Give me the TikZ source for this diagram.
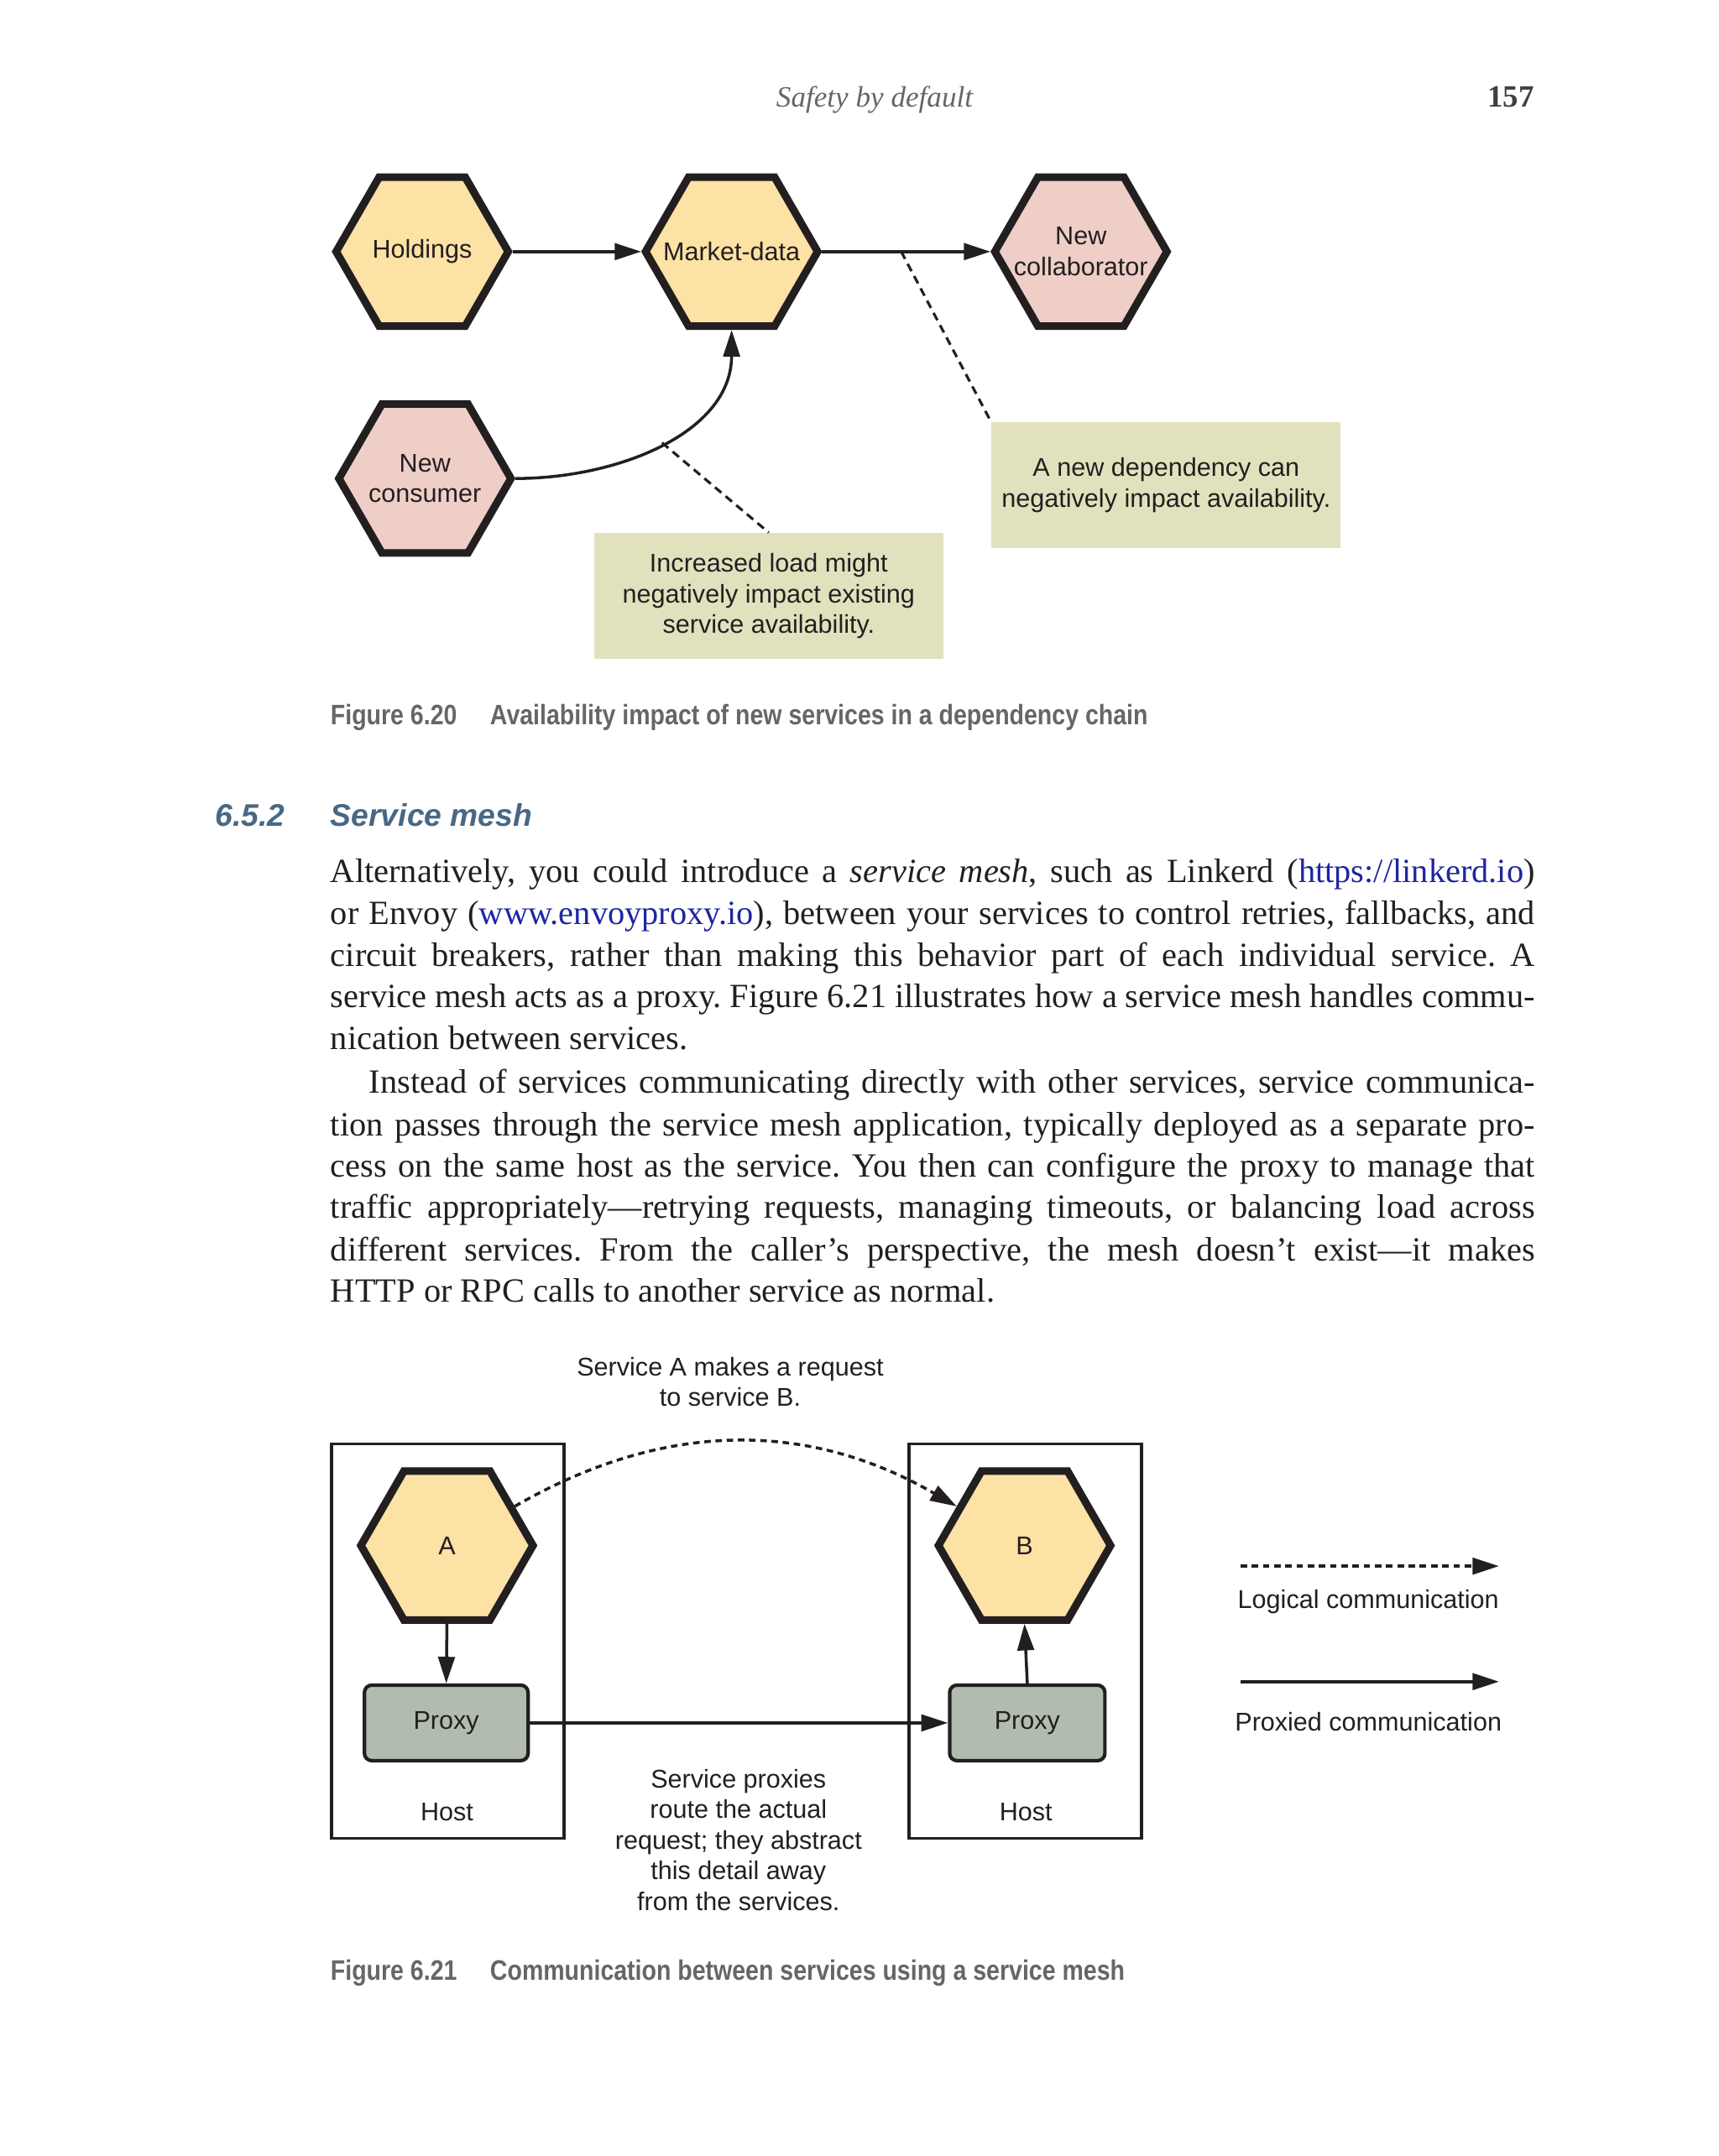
\documentclass[tikz,border=0pt]{standalone}
\usepackage{fontspec}
\setmainfont{Liberation Serif}
\newfontfamily\figfont{Liberation Sans}
\newfontfamily\capfont[FakeStretch=0.85]{Liberation Sans}
\usepackage{tikz}
\usetikzlibrary{arrows.meta, shapes.geometric, calc, positioning}

\definecolor{hexline}{RGB}{35,31,32}
\definecolor{hexyellow}{RGB}{253,226,165}
\definecolor{hexpink}{RGB}{239,206,199}
\definecolor{notefill}{RGB}{226,225,189}
\definecolor{proxyfill}{RGB}{178,188,174}
\definecolor{capgray}{RGB}{102,102,102}
\definecolor{headblue}{RGB}{72,104,131}
\definecolor{linkblue}{RGB}{30,38,160}
\definecolor{textblack}{RGB}{35,31,32}

\newcommand{\link}[1]{\textcolor{linkblue}{#1}}
\frenchspacing

\begin{document}
\begin{tikzpicture}[
          x=0.016384cm, y=-0.016384cm,
          >={Triangle[length=9pt,width=5.6pt]},
          hexa/.style={regular polygon, regular polygon sides=6, draw=hexline,
            line width=2.6pt, minimum size=2.05cm, inner sep=0pt},
          lab/.style={font=\figfont\fontsize{8.7}{10.4}\selectfont, align=center, text=textblack, inner sep=0pt},
          note/.style={lab, fill=notefill, minimum width=4.16cm, minimum height=1.5cm},
          proxy/.style={lab, draw=hexline, fill=proxyfill, line width=1.2pt, rounded corners=2.5pt,
            minimum height=0.9cm},
          host/.style={draw=hexline, line width=1pt, minimum width=2.77cm, minimum height=4.70cm, inner sep=0pt},
          conn/.style={->, line width=1pt, draw=hexline},
          callout/.style={line width=0.9pt, draw=hexline, dash pattern=on 2.8pt off 1.9pt},
          logical/.style={->, line width=1pt, draw=hexline, dash pattern=on 2.2pt off 1.6pt},
          body/.style={font=\fontsize{11.5}{14}\selectfont, text=textblack, inner sep=0pt, anchor=base west},
          capt/.style={font=\capfont\bfseries\fontsize{9.55}{12}\selectfont, text=capgray, inner sep=0pt, anchor=base west},
        ]

        % page
        \fill[white] (0,0) rectangle (1250,1568);
        \useasboundingbox (0,0) rectangle (1250,1568);

        % --- running head ---
        \node[inner sep=0pt, anchor=base, text=capgray, font=\itshape\fontsize{10}{12}\selectfont] (runhead) at (636,78) {Safety by default};
        \node[inner sep=0pt, anchor=base east, text=black!75, font=\bfseries\fontsize{10.5}{12}\selectfont] (pagenum) at (1116,78) {157};

        % -----------------------
        % Figure 6.20
        % -----------------------
        \node[hexa, fill=hexyellow, label={[lab]center:Holdings}] (hold) at (307,183) {};
        \node[hexa, fill=hexyellow, label={[lab]center:Market-data}] (mkt)  at (532,183) {};
        \node[hexa, fill=hexpink, label={[lab]center:New\\collaborator}] (coll) at (786,183) {};
        \node[hexa, fill=hexpink, label={[lab]center:New\\consumer}] (cons) at (309,348) {};

        \node[note] (loadnote) at (559,433.5) {Increased load might\\negatively impact existing\\service availability.};
        \node[note] (depnote)  at (848,353)   {A new dependency can\\negatively impact availability.};

        \draw[conn] (hold.east) -- (mkt.west);
        \draw[conn] (mkt.east) -- coordinate[pos=0.47] (deppt) (coll.west);
        \draw[conn] (cons.east) to[out=0, in=-90] coordinate[pos=0.5] (loadpt) (mkt.south);

        % callout lines
        \draw[callout] (deppt) -- (depnote.north west);
        \draw[callout] (loadpt) -- (loadnote.north);

        \node[capt] (cap20) at (240,527) {Figure 6.20};
        \node[capt] (cap20t) at (356,527) {Availability impact of new services in a dependency chain};

        % --- section heading ---
        \node[inner sep=0pt, anchor=base west, text=headblue, font=\figfont\bfseries\itshape\fontsize{10.6}{13}\selectfont] (secnum) at (156,601) {6.5.2};
        \node[inner sep=0pt, anchor=base west, text=headblue, font=\figfont\bfseries\itshape\fontsize{10.6}{13}\selectfont] (sectitle) at (240,601) {Service mesh};

        % --- body text, line by line ---
        \node[body] (l1)  at (240,642) {\makebox[14.352cm][s]{Alternatively, you could introduce a \textit{service mesh}, such as Linkerd (\link{https://linkerd.io})}};
        \node[body] (l2)  at (240,672) {\makebox[14.352cm][s]{or Envoy (\link{www.envoyproxy.io}), between your services to control retries, fallbacks, and}};
        \node[body] (l3)  at (240,703) {\makebox[14.352cm][s]{circuit breakers, rather than making this behavior part of each individual service. A}};
        \node[body] (l4)  at (240,733) {\makebox[14.352cm][s]{service mesh acts as a proxy. Figure 6.21 illustrates how a service mesh handles commu-}};
        \node[body] (l5)  at (240,763) {nication between services.};
        \node[body] (l6)  at (268,795) {\makebox[13.894cm][s]{Instead of services communicating directly with other services, service communica-}};
        \node[body] (l7)  at (240,826) {\makebox[14.352cm][s]{tion passes through the service mesh application, typically deployed as a separate pro-}};
        \node[body] (l8)  at (240,856) {\makebox[14.352cm][s]{cess on the same host as the service. You then can configure the proxy to manage that}};
        \node[body] (l9)  at (240,886) {\makebox[14.352cm][s]{traffic appropriately---retrying requests, managing timeouts, or balancing load across}};
        \node[body] (l10) at (240,917) {\makebox[14.352cm][s]{different services. From the caller's perspective, the mesh doesn't exist---it makes}};
        \node[body] (l11) at (240,947) {HTTP or RPC calls to another service as normal.};

        % -----------------------
        % Figure 6.21
        % -----------------------
        \node[lab] (reqnote) at (531,1005) {Service A makes a request\\to service B.};

        \node[host] (hostA) at (325.5,1193.5) {};
        \node[host] (hostB) at (745.5,1193.5) {};
        \node[lab] (hostAlab) at (325,1318) {Host};
        \node[lab] (hostBlab) at (746,1318) {Host};

        \node[hexa, fill=hexyellow, label={[lab]center:A}] (svcA) at (325,1124) {};
        \node[hexa, fill=hexyellow, label={[lab]center:B}] (svcB) at (745,1124) {};

        \node[proxy, minimum width=1.95cm] (pxA) at (324.5,1253) {Proxy};
        \node[proxy, minimum width=1.85cm] (pxB) at (747,1253) {Proxy};

        \draw[conn] (svcA.south) -- (pxA.north);
        \draw[conn] (pxB.north) -- (svcB.south);
        \draw[conn] (pxA.east) -- (pxB.west);
        \draw[logical] (svcA.30) to[out=30, in=150] (svcB.150);

        \node[lab] (routenote) at (537,1338) {Service proxies\\route the actual\\request; they abstract\\this detail away\\from the services.};

        % legend
        \coordinate (lgLs) at (902,1139);
        \coordinate (lgLe) at (1090,1139);
        \coordinate (lgPs) at (902,1223);
        \coordinate (lgPe) at (1090,1223);
        \draw[logical] (lgLs) -- (lgLe);
        \draw[conn] (lgPs) -- (lgPe);
        \node[lab] (lgLlab) at (995,1165) {Logical communication};
        \node[lab] (lgPlab) at (995,1252) {Proxied communication};

        \node[capt] (cap21) at (240,1440) {Figure 6.21};
        \node[capt] (cap21t) at (356,1440) {Communication between services using a service mesh};

\end{tikzpicture}
\end{document}
